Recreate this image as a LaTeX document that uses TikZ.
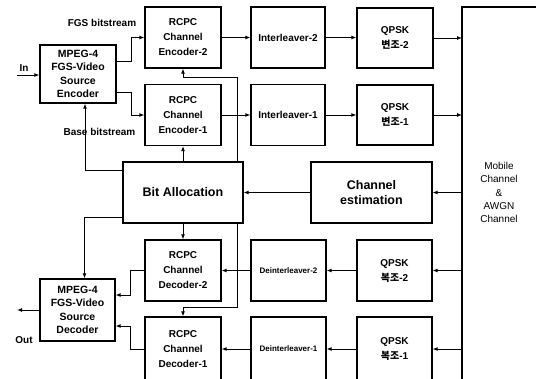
\documentclass[tikz,border=0pt]{standalone}
\usepackage{fontspec}
\setmainfont{Liberation Sans}
\newfontfamily\kr{Noto Sans CJK KR}
\usetikzlibrary{arrows.meta}
\begin{document}
\begin{tikzpicture}[x=1pt,y=-1pt,
  box/.style={draw,line width=1.3pt,minimum width=76pt,minimum height=61pt,inner sep=0pt,align=center,
    font=\bfseries\fontsize{10}{15}\selectfont},
  srcbox/.style={box,minimum width=76pt,minimum height=58pt,font=\bfseries\fontsize{10.5}{13.3}\selectfont},
  bigbox/.style={box,minimum width=120pt,minimum height=61pt,font=\bfseries\fontsize{12.5}{15}\selectfont},
  lowbox/.style={box,minimum height=64pt},
  lbl/.style={inner sep=0pt,font=\bfseries\fontsize{10}{12}\selectfont},
  arr/.style={line width=0.9pt,-{Latex[length=5pt,width=4pt]}},
  ln/.style={line width=0.9pt}]
\useasboundingbox (0,0) rectangle (536,378);
\clip (0,0) rectangle (536,378);
% transmitter
\node[srcbox] (enc) at (78,74) {MPEG-4\\FGS-Video\\Source\\Encoder};
\node[box] (rce2) at (183,37.5) {RCPC\\Channel\\Encoder-2};
\node[box] (rce1) at (183,115) {RCPC\\Channel\\Encoder-1};
\node[box,minimum width=74pt] (int2) at (288,37.5) {Interleaver-2};
\node[box,minimum width=74pt] (int1) at (288,115) {Interleaver-1};
\node[box,minimum height=60pt] (qm2) at (395,38) {QPSK\\{\kr 변조}-2};
\node[box,minimum height=60pt] (qm1) at (395,115) {QPSK\\{\kr 변조}-1};
% channel
\node[draw=none,minimum width=110pt,minimum height=420pt,inner sep=0pt,anchor=north west] (mob) at (462,7) {};
\draw[line width=1.3pt] (mob.south west) |- (mob.north east);
\node[inner sep=0pt,align=center,font=\fontsize{10}{13.3}\selectfont] (mobtxt) at (499,192.5) {Mobile\\Channel\\\&\\AWGN\\Channel};
\node[bigbox] (be) at (183,192.5) {Bit Allocation};
\node[bigbox,minimum width=121pt] (ce) at (371.5,192.5) {Channel\\estimation};
% receiver
\node[srcbox,minimum width=75pt,minimum height=62pt] (dec) at (77.5,310) {MPEG-4\\FGS-Video\\Source\\Decoder};
\node[box] (rcd2) at (183,270.5) {RCPC\\Channel\\Decoder-2};
\node[lowbox] (rcd1) at (183,349) {RCPC\\Channel\\Decoder-1};
\node[box,minimum width=75pt,font=\bfseries\fontsize{8}{10}\selectfont] (dint2) at (288.5,270.5) {Deinterleaver-2};
\node[lowbox,minimum width=75pt,font=\bfseries\fontsize{8}{10}\selectfont] (dint1) at (288.5,349) {Deinterleaver-1};
\node[box,minimum width=75pt] (qd2) at (394.5,270.5) {QPSK\\{\kr 복조}-2};
\node[lowbox,minimum width=75pt] (qd1) at (394.5,349) {QPSK\\{\kr 복조}-1};
% labels
\node[lbl] (lin) at (24,68) {In};
\node[lbl] (lout) at (24,340) {Out};
\node[lbl] (lfgs) at (102,23) {FGS bitstream};
\node[lbl] (lbase) at (99.5,132) {Base bitstream};
\coordinate (inpt) at (17,75);
\coordinate (outpt) at (17,310);
% connectors transmitter
\draw[arr] (inpt) -- (inpt -| enc.west);
\draw[arr] ([yshift=13pt]enc.east) -- ++(15pt,0) |- (rce2.west);
\draw[arr] ([yshift=-18pt]enc.east) -- ++(15pt,0) |- (rce1.west);
\draw[arr] (rce2.east) -- (rce2.east -| int2.west);
\draw[arr] (rce1.east) -- (rce1.east -| int1.west);
\draw[arr] (int2.east) -- (int2.east -| qm2.west);
\draw[arr] (int1.east) -- (int1.east -| qm1.west);
\draw[arr] (qm2.east) -- (qm2.east -| mob.west);
\draw[arr] (qm1.east) -- (qm1.east -| mob.west);
% bit allocation links
\draw[arr] (be.north) -- (rce1.south);
\draw[arr] ([xshift=54pt]be.north) |- ([yshift=-9pt]rce2.south) -- (rce2.south);
\draw[arr] ([yshift=22.5pt]be.west) -| ([xshift=7pt]enc.south);
\draw[arr] ([yshift=-24.5pt]be.west) -| ([xshift=7pt]dec.north);
\draw[arr] (be.south) -- (rcd2.north);
\draw[arr] ([xshift=54pt]be.south) |- ([yshift=9pt]rcd1.north) -- (rcd1.north);
\draw[arr] (ce.east -| mob.west) -- (ce.east);
\draw[arr] (ce.west) -- (be.east);
% connectors receiver
\draw[arr] (qd2.east -| mob.west) -- (qd2.east);
\draw[arr] (qd1.east -| mob.west) -- (qd1.east);
\draw[arr] (qd2.west) -- (qd2.west -| dint2.east);
\draw[arr] (qd1.west) -- (qd1.west -| dint1.east);
\draw[arr] (dint2.west) -- (dint2.west -| rcd2.east);
\draw[arr] (dint1.west) -- (dint1.west -| rcd1.east);
\draw[arr] (rcd2.west) -- ++(-14pt,0) |- ([yshift=15pt]dec.east);
\draw[arr] (rcd1.west) -- ++(-14pt,0) |- ([yshift=-16pt]dec.east);
\draw[arr] (dec.west) -- (outpt);
\end{tikzpicture}
\end{document}
